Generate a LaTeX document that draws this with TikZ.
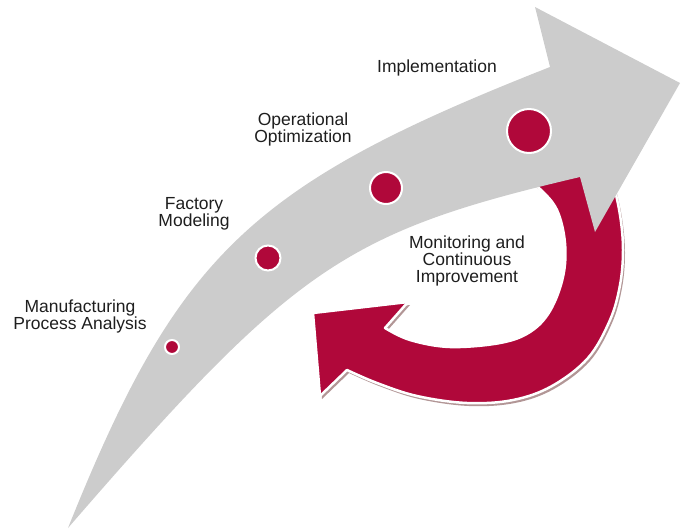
\documentclass[tikz,border=0pt]{standalone}
\usepackage{fontspec}
\setmainfont{Liberation Sans}
\definecolor{arrowgray}{RGB}{204,204,204}
\definecolor{dotred}{RGB}{176,8,58}
\definecolor{shadowc}{RGB}{178,150,150}
\definecolor{txt}{RGB}{30,30,30}
\newcommand\myredpath{plot[smooth,tension=0.6] coordinates {(600,148) (612,180) (620,215) (623,250) (620,285) (610,320) (588,358) (552,386) (513,400) (467,403) (417,396) (377,383) (347,370)} -- (320,396) -- (313,313) -- (408,302) -- (385,328) -- plot[smooth,tension=0.6] coordinates {(385,328) (410,340) (450,347) (500,343) (530,332) (550,311) (563,277) (565,243) (557,210) (540,189) (522,176)} -- cycle}
\tikzset{
  dotnode/.style={circle, fill=dotred, draw=white, line width=2pt, inner sep=0pt},
  label/.style={align=center, text=txt, inner sep=0pt, font=\fontsize{17.5}{17}\selectfont}
}
\begin{document}
\begin{tikzpicture}[x=1pt,y=-1pt]
\useasboundingbox (0,0) rectangle (683,531);
% red cycle arrow with shadow
\fill[shadowc, shift={(2,3)}] \myredpath;
\filldraw[fill=dotred, draw=white, line width=2.5pt, line join=round] \myredpath;
% gray arrow
\fill[arrowgray] (68,528) .. controls (178,254) and (250,185) .. (550,67)
  -- (535,7) -- (680,83) -- (595,232) -- (580,177)
  .. controls (345,232) and (294,267) .. (68,528) -- cycle;
% dots
\node[dotnode, minimum size=14pt] (d1) at (172,347) {};
\node[dotnode, minimum size=25pt] (d2) at (268,258) {};
\node[dotnode, minimum size=32pt] (d3) at (386,188) {};
\node[dotnode, minimum size=44pt] (d4) at (529,131) {};
% labels
\node[label] (t1) at (80,316) {Manufacturing\\Process Analysis};
\node[label] (t2) at (194,214) {Factory\\Modeling};
\node[label] (t3) at (303,129) {Operational\\Optimization};
\node[label] (t4) at (437,68) {Implementation};
\node[label] (t5) at (467,261) {Monitoring and\\Continuous\\Improvement};
\end{tikzpicture}
\end{document}
